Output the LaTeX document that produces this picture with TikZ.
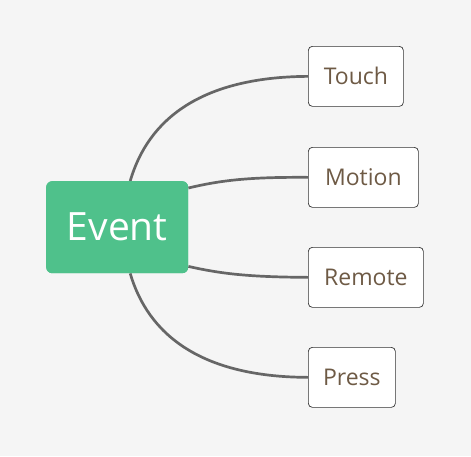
\documentclass[tikz,border=0pt]{standalone}
\usepackage{fontspec}
\setmainfont{Open Sans}
\definecolor{bg}{HTML}{F5F5F5}
\definecolor{evgreen}{HTML}{4FC18B}
\definecolor{txtbrown}{HTML}{6E5A45}
\definecolor{linegray}{HTML}{666666}
\begin{document}
\begin{tikzpicture}[x=1pt,y=-1pt,
  leaf/.style={draw=black!80,line width=0.7pt,fill=white,rounded corners=4pt,text=txtbrown,font=\fontsize{23}{26}\selectfont,inner sep=0pt,anchor=north west},
  root/.style={fill=evgreen,rounded corners=6pt,text=white,font=\fontsize{39}{42}\selectfont,minimum width=142pt,minimum height=92pt,inner sep=0pt,anchor=north west},
  conn/.style={draw=linegray,line width=2.7pt}]
\fill[bg] (0,0) rectangle (471,456);
\useasboundingbox (0,0) rectangle (471,456);
\node[root] (event) at (46,181) {};
\node[leaf,minimum width=95pt,minimum height=60pt] (touch) at (308,46) {Touch};
\node[leaf,minimum width=110pt,minimum height=60pt] (motion) at (308,147) {Motion};
\node[leaf,minimum width=115pt,minimum height=60pt] (remote) at (308,247) {Remote};
\node[leaf,minimum width=87pt,minimum height=60pt] (press) at (308,347) {Press};
\coordinate (et) at ([xshift=13pt]event.north);
\coordinate (eb) at ([xshift=13pt]event.south);
\coordinate (er1) at ([yshift=-7pt]event.north east);
\coordinate (er2) at ([yshift=7pt]event.south east);
\draw[conn] (et) .. controls (148,120) and (200,77) .. (touch.west);
\draw[conn] (er1) .. controls (222,180) and (250,177) .. (motion.west);
\draw[conn] (er2) .. controls (222,274) and (250,277) .. (remote.west);
\draw[conn] (eb) .. controls (148,334) and (200,377) .. (press.west);
\node[root] (eventlabel) at (46,181) {Event};
\end{tikzpicture}
\end{document}
